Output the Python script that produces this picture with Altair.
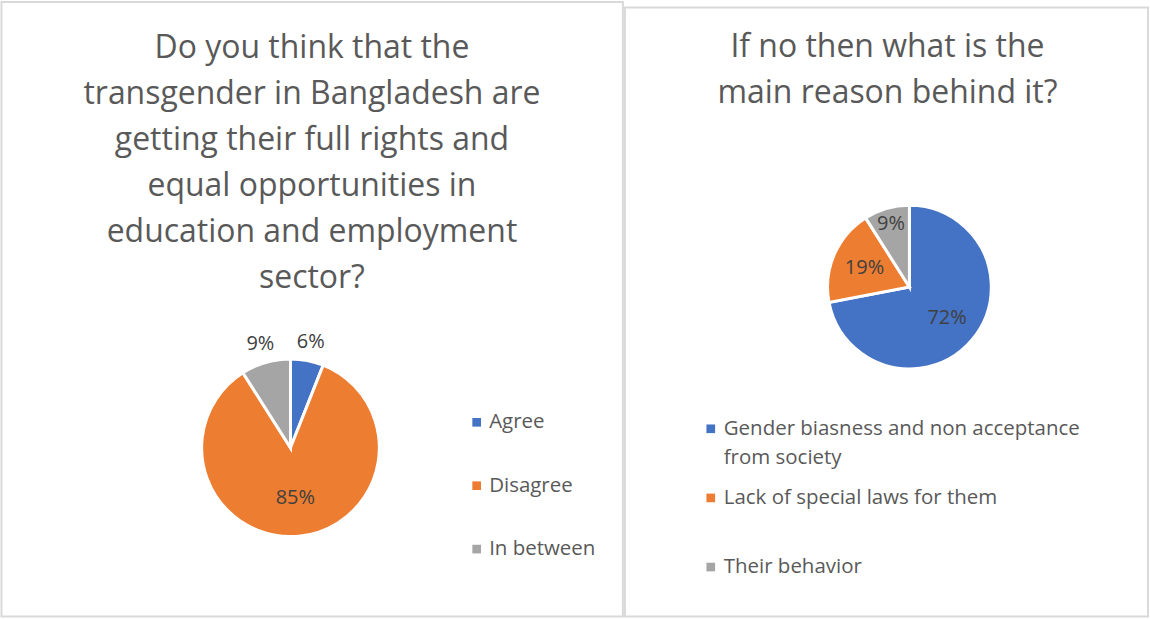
import altair as alt
import pandas as pd

FONT = "Open Sans"

left_title = ["Do you think that the", "transgender in Bangladesh are",
              "getting their full rights and", "equal opportunities in",
              "education and employment", "sector?"]
left_cats = ["Agree", "Disagree", "In between"]
left_values = [6, 85, 9]
left_legend = ["Agree", "Disagree", "In between"]

right_title = ["If no then what is the", "main reason behind it?"]
right_cats = ["Gender biasness and non acceptance from society",
              "Lack of special laws for them", "Their behavior"]
right_values = [72, 19, 9]
right_legend = ["Gender biasness and non acceptance\nfrom society",
                "Lack of special laws for them", "Their behavior"]

colors = ["#4472C4", "#ED7D31", "#A5A5A5"]
TEXT = "#595959"
LABEL = "#404040"
BORDER = "#D9D9D9"


def panel(cats, values, legend, title_lines, w, h, frame, title_pos,
          center, radius, label_r_expr, sq_x, txt_x, leg_range):
    df = pd.DataFrame({
        "cat": cats,
        "value": values,
        "order": list(range(len(cats))),
        "label": [f"{v}%" for v in values],
        "legend": legend,
    })
    base = alt.Chart(df)
    color = alt.Color("cat:N", scale=alt.Scale(domain=cats, range=colors), legend=None)
    one = alt.Data(values=[{}])

    border = alt.Chart(one).mark_rect(fill="white", fillOpacity=0, stroke=BORDER, strokeWidth=2).encode(
        x=alt.value(frame[0]), x2=alt.value(frame[1]),
        y=alt.value(frame[2]), y2=alt.value(frame[3]))

    title = alt.Chart(one).mark_text(
        text=title_lines, align="center", baseline="alphabetic", font=FONT,
        fontSize=32, lineHeight=46, color=TEXT).encode(
        x=alt.value(title_pos[0]), y=alt.value(title_pos[1]))

    arc = base.mark_arc(outerRadius=radius, stroke="white", strokeWidth=3).encode(
        theta=alt.Theta("value:Q", stack=True),
        color=color,
        order=alt.Order("order:Q"),
        x=alt.value(center[0]), y=alt.value(center[1]))

    labels = base.transform_window(
        cum="sum(value)", sort=[alt.SortField("order")], frame=[None, 0]
    ).transform_joinaggregate(
        total="sum(value)"
    ).transform_calculate(
        mid="(datum.cum - datum.value / 2) / datum.total",
        r=label_r_expr,
    ).mark_text(font=FONT, fontSize=20, color=LABEL).encode(
        theta=alt.Theta("mid:Q", scale=alt.Scale(domain=[0, 1])),
        radius=alt.Radius("r:Q", scale=None),
        text="label:N",
        x=alt.value(center[0]), y=alt.value(center[1]))

    yscale = alt.Scale(type="point", domain=cats, range=leg_range, padding=0)
    squares = base.mark_square(size=75, opacity=1).encode(
        x=alt.value(sq_x),
        y=alt.Y("cat:N", scale=yscale, axis=None),
        color=color)
    texts = base.mark_text(align="left", baseline="middle", font=FONT, fontSize=20.5,
                           color=TEXT, lineBreak="\n", lineHeight=29).encode(
        x=alt.value(txt_x),
        y=alt.Y("cat:N", scale=yscale, axis=None),
        text="legend:N")

    return alt.layer(border, title, arc, labels, squares, texts).resolve_scale(
        theta="independent"
    ).properties(width=w, height=h)


left = panel(left_cats, left_values, left_legend, left_title, 624, 619,
             (1.5, 624, 1.5, 617), (312.5, 58), (291, 448), 89,
             "datum.cat == 'Disagree' ? 51 : 108", 477.5, 490, [422.5, 549.5])

right = panel(right_cats, right_values, right_legend, right_title, 526, 619,
              (0, 524, 7, 617), (263, 57), (285, 287), 82,
              "datum.cat == 'Their behavior' ? 66 : 49", 86, 99, [429, 567.5])

chart = alt.hconcat(left, right, spacing=0).properties(
    padding=0, background="white"
).configure_view(strokeWidth=0)

chart.save("out.html", embed_options={"renderer": "svg", "actions": False})
